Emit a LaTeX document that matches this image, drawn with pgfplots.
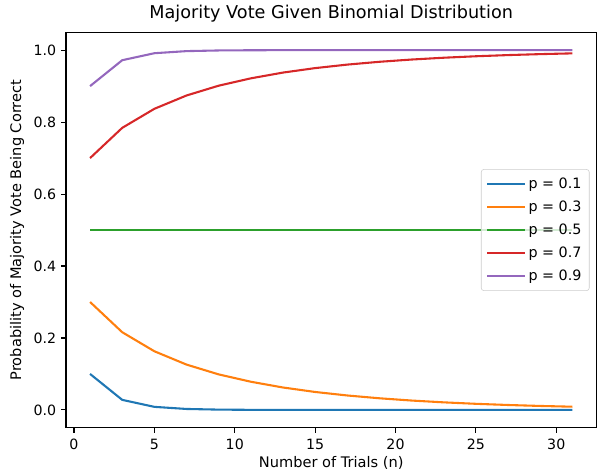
\documentclass[border=0pt]{standalone}
\usepackage{fontspec}
\setmainfont{DejaVu Sans}
\usepackage{pgfplots}
\pgfplotsset{compat=1.18}
\usetikzlibrary{calc}
\definecolor{c0}{HTML}{1F77B4}
\definecolor{c1}{HTML}{FF7F0E}
\definecolor{c2}{HTML}{2CA02C}
\definecolor{c3}{HTML}{D62728}
\definecolor{c4}{HTML}{9467BD}
\begin{document}
\begin{tikzpicture}
\begin{axis}[
  scale only axis,
  width=382pt, height=285pt,
  xmin=-0.5, xmax=32.5,
  ymin=-0.05, ymax=1.05,
  xtick={0,5,10,15,20,25,30},
  ytick={0,0.2,0.4,0.6,0.8,1.0},
  tick pos=left,
  tick align=outside,
  major tick length=3.5pt,
  every tick/.style={black, line width=0.8pt},
  axis line style={line width=0.8pt, black},
  /pgf/number format/assume math mode=true,
  yticklabel style={/pgf/number format/.cd, fixed, fixed zerofill, precision=1},
  ticklabel style={font=\fontsize{10.2pt}{12pt}\selectfont},
  xticklabel style={yshift=-1pt},
  title={Majority Vote Given Binomial Distribution},
  title style={font=\fontsize{12.7pt}{15pt}\selectfont, yshift=-2pt},
  xlabel={Number of Trials (n)},
  ylabel={Probability of Majority Vote Being Correct},
  label style={font=\fontsize{10.5pt}{12pt}\selectfont},
  xlabel style={yshift=2pt},
  ylabel style={yshift=0pt},
  legend cell align=left,
  legend style={at={(0.987,0.5)}, anchor=east, draw=black!20, rounded corners=2pt,
    fill=white, fill opacity=0.8, text opacity=1,
    font=\fontsize{10.3pt}{12pt}\selectfont, row sep=3.4pt, inner xsep=3.6pt, inner ysep=4pt},
  legend image code/.code={\draw[#1] (0pt,0pt) -- (22.3pt,0pt); \path (0pt,0pt) -- (27pt,0pt);},
]
\addplot[c0, line width=1.5pt] coordinates {
(1,0.1) (3,0.028) (5,0.00856) (7,0.002728) (9,0.000891) (11,0.000296) (13,0.0001) (15,0.00003) (17,0.00001) (19,0.000003) (21,0.000001) (23,0) (25,0) (27,0) (29,0) (31,0)};
\addlegendentry{p = 0.1}
\addplot[c1, line width=1.5pt] coordinates {
(1,0.3) (3,0.216) (5,0.16308) (7,0.126036) (9,0.098809) (11,0.07839) (13,0.062375) (15,0.049952) (17,0.0402) (19,0.032395) (21,0.026114) (23,0.021091) (25,0.017027) (27,0.013754) (29,0.011099) (31,0.008964)};
\addlegendentry{p = 0.3}
\addplot[c2, line width=1.5pt] coordinates {
(1,0.5) (3,0.5) (5,0.5) (7,0.5) (9,0.5) (11,0.5) (13,0.5) (15,0.5) (17,0.5) (19,0.5) (21,0.5) (23,0.5) (25,0.5) (27,0.5) (29,0.5) (31,0.5)};
\addlegendentry{p = 0.5}
\addplot[c3, line width=1.5pt] coordinates {
(1,0.7) (3,0.784) (5,0.83692) (7,0.873964) (9,0.901191) (11,0.92161) (13,0.937625) (15,0.950048) (17,0.9598) (19,0.967605) (21,0.973886) (23,0.978909) (25,0.982973) (27,0.986246) (29,0.988901) (31,0.991036)};
\addlegendentry{p = 0.7}
\addplot[c4, line width=1.5pt] coordinates {
(1,0.9) (3,0.972) (5,0.99144) (7,0.997272) (9,0.999109) (11,0.999704) (13,0.9999) (15,0.99997) (17,0.99999) (19,0.999997) (21,0.999999) (23,1) (25,1) (27,1) (29,1) (31,1)};
\addlegendentry{p = 0.9}
\end{axis}
\path[use as bounding box] ($(current axis.south west)+(-47.5pt,-34.6pt)$) rectangle ($(current axis.north east)+(0pt,22.3pt)$);
\end{tikzpicture}
\end{document}
